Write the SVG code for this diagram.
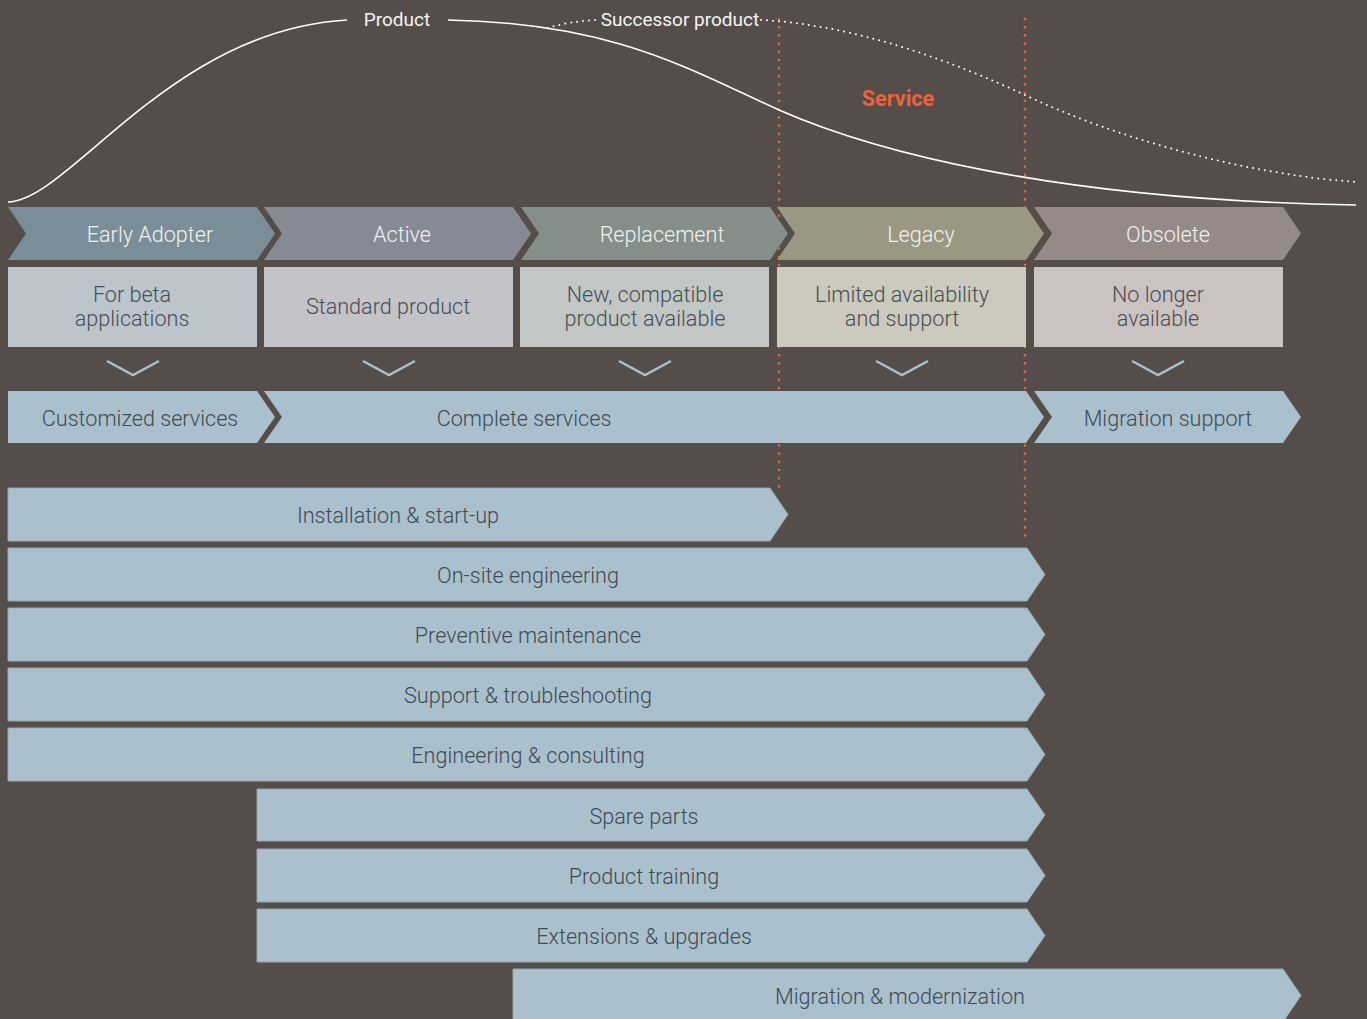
<svg xmlns="http://www.w3.org/2000/svg" width="1367" height="1019" viewBox="0 0 1367 1019">
<style>
text{font-family:Roboto,"Liberation Sans",sans-serif;font-weight:300;text-anchor:middle}
.ph{fill:#f2f2f2;font-size:21.6px}
.bx{fill:#474e55;font-size:21.6px}
.sv{fill:#414b53;font-size:21.6px}
.bar{fill:#abc0cd;stroke:#94a7b4;stroke-width:1}
.v{fill:none;stroke:#a9c0ce;stroke-width:2.5}
.red{fill:none;stroke:#e8643a;stroke-width:2.6;stroke-linecap:round;stroke-dasharray:0 8.2}
.curve{fill:none;stroke:#ffffff;stroke-width:1.6}
.dots{fill:none;stroke:#ffffff;stroke-width:2;stroke-linecap:round;stroke-dasharray:0 6}
.lbl{fill:#f4f4f4;font-size:19px;font-weight:400}
</style>
<rect width="1367" height="1019" fill="#554d4a"/>

<g id="guides">
<path class="red" d="M779,19 V488"/>
<path class="red" d="M1025,19 V537"/>
</g>

<g id="curves">
<path class="curve" d="M8,202 C70,200 170,30 347,20"/>
<path class="curve" d="M448,20 C615,23 690,70 779,110 C870,150 1050,200 1356,205"/>
<path class="dots" d="M548,28 Q570,21 598,20"/>
<path class="dots" d="M761,20 C860,25 960,65 1025,95 C1120,140 1250,175 1357,182"/>
<text class="lbl" x="397" y="26">Product</text>
<text class="lbl" x="680" y="26">Successor product</text>
<text x="898" y="106" style="font-weight:700;font-size:21.5px;fill:#e8643a">Service</text>
</g>

<g id="phase-early-adopter">
<path d="M8,207 H257 L275,233.5 L257,260 H8 L26,233.5 Z" fill="#7b8e98"/>
<text class="ph" x="150" y="241.5">Early Adopter</text>
</g>
<g id="phase-active">
<path d="M264,207 H513 L531,233.5 L513,260 H264 L282,233.5 Z" fill="#878a95"/>
<text class="ph" x="402" y="241.5">Active</text>
</g>
<g id="phase-replacement">
<path d="M521,207 H770 L788,233.5 L770,260 H521 L539,233.5 Z" fill="#848f8a"/>
<text class="ph" x="662" y="241.5">Replacement</text>
</g>
<g id="phase-legacy">
<path d="M777,207 H1026 L1044,233.5 L1026,260 H777 L795,233.5 Z" fill="#9a9882"/>
<text class="ph" x="921" y="241.5">Legacy</text>
</g>
<g id="phase-obsolete">
<path d="M1034,207 H1283 L1301,233.5 L1283,260 H1034 L1052,233.5 Z" fill="#968a88"/>
<text class="ph" x="1168" y="241.5">Obsolete</text>
</g>

<g id="box-beta">
<rect x="8" y="267" width="249" height="80" fill="#bdc5cc"/>
<text class="bx" x="132" y="301.5">For beta</text>
<text class="bx" x="132" y="325.5">applications</text>
</g>
<g id="box-standard">
<rect x="264" y="267" width="249" height="80" fill="#c4c3c8"/>
<text class="bx" x="388" y="313.5">Standard product</text>
</g>
<g id="box-new">
<rect x="520" y="267" width="249" height="80" fill="#c2c6c4"/>
<text class="bx" x="645" y="301.5">New, compatible</text>
<text class="bx" x="645" y="325.5">product available</text>
</g>
<g id="box-limited">
<rect x="777" y="267" width="249" height="80" fill="#cbcabd"/>
<text class="bx" x="902" y="301.5">Limited availability</text>
<text class="bx" x="902" y="325.5">and support</text>
</g>
<g id="box-nolonger">
<rect x="1034" y="267" width="249" height="80" fill="#cbc3c2"/>
<text class="bx" x="1158" y="301.5">No longer</text>
<text class="bx" x="1158" y="325.5">available</text>
</g>

<g id="connectors">
<path class="v" d="M107,361 L133,375 L159,361"/>
<path class="v" d="M363,361 L389,375 L415,361"/>
<path class="v" d="M619,361 L645,375 L671,361"/>
<path class="v" d="M876,361 L902,375 L928,361"/>
<path class="v" d="M1132,361 L1158,375 L1184,361"/>
</g>

<g id="svc-customized">
<path d="M8,391 H257 L275,417 L257,443 H8 Z" fill="#abc0cd"/>
<text class="sv" x="140" y="425.5">Customized services</text>
</g>
<g id="svc-complete">
<path d="M264,391 H1026 L1044,417 L1026,443 H264 L282,417 Z" fill="#abc0cd"/>
<text class="sv" x="524" y="425.5">Complete services</text>
</g>
<g id="svc-migration">
<path d="M1034,391 H1283 L1301,417 L1283,443 H1034 L1052,417 Z" fill="#abc0cd"/>
<text class="sv" x="1168" y="425.5">Migration support</text>
</g>

<g id="bar-installation">
<path class="bar" d="M8,488 H770 L788,514.5 L770,541 H8 Z"/>
<text class="sv" x="398" y="522.5">Installation &amp; start-up</text>
</g>
<g id="bar-onsite">
<path class="bar" d="M8,548 H1027 L1045,574.5 L1027,601 H8 Z"/>
<text class="sv" x="528" y="582.5">On-site engineering</text>
</g>
<g id="bar-preventive">
<path class="bar" d="M8,608 H1027 L1045,634.5 L1027,661 H8 Z"/>
<text class="sv" x="528" y="642.5">Preventive maintenance</text>
</g>
<g id="bar-support">
<path class="bar" d="M8,668 H1027 L1045,694.5 L1027,721 H8 Z"/>
<text class="sv" x="528" y="702.5">Support &amp; troubleshooting</text>
</g>
<g id="bar-engineering">
<path class="bar" d="M8,728 H1027 L1045,754.5 L1027,781 H8 Z"/>
<text class="sv" x="528" y="762.5">Engineering &amp; consulting</text>
</g>
<g id="bar-spare">
<path class="bar" d="M257,789 H1027 L1045,815 L1027,841 H257 Z"/>
<text class="sv" x="644" y="823.5">Spare parts</text>
</g>
<g id="bar-training">
<path class="bar" d="M257,849 H1027 L1045,875.5 L1027,902 H257 Z"/>
<text class="sv" x="644" y="883.5">Product training</text>
</g>
<g id="bar-extensions">
<path class="bar" d="M257,909 H1027 L1045,935.5 L1027,962 H257 Z"/>
<text class="sv" x="644" y="943.5">Extensions &amp; upgrades</text>
</g>
<g id="bar-migration">
<path class="bar" d="M513,969 H1283 L1301,995.5 L1283,1022 H513 Z"/>
<text class="sv" x="900" y="1003.5">Migration &amp; modernization</text>
</g>
</svg>
